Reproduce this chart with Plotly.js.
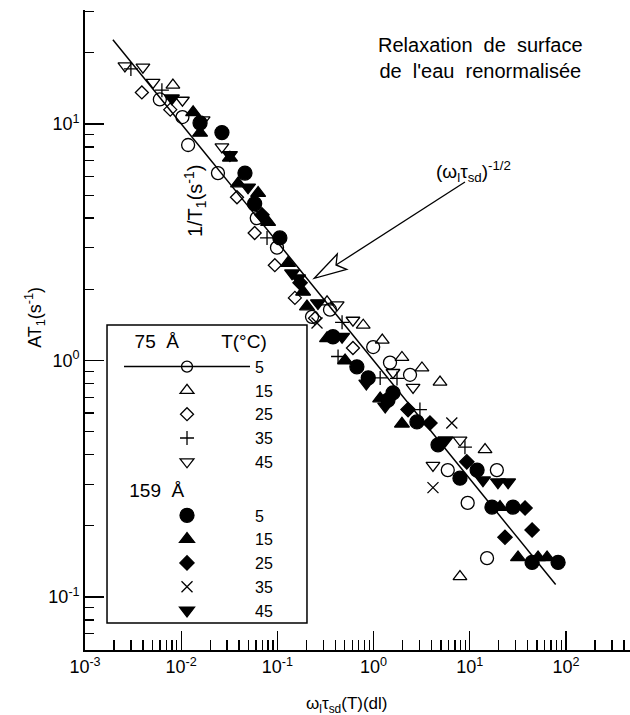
<!DOCTYPE html>
<html><head><meta charset="utf-8">
<script src="https://cdn.plot.ly/plotly-3.0.1.min.js"></script>
<style>html,body{margin:0;padding:0;background:#fff}</style>
</head><body><div id="chart" style="width:630px;height:715px"></div>
<script>
const FONT = 'Liberation Sans, Arial, Helvetica, sans-serif';

// ---- data: 75 Å pores ----
const x75_5  = [0.0060, 0.0103, 0.0118, 0.0241, 0.061, 0.099, 0.229, 0.352, 0.99, 1.48, 2.39, 5.9, 9.5, 15.1, 19.1];
const y75_5  = [12.7, 10.7, 8.15, 6.2, 4.0, 3.0, 1.53, 1.64, 1.14, 0.98, 0.87, 0.344, 0.25, 0.146, 0.344];
const x75_15 = [0.0082, 0.328, 0.78, 1.23, 1.97, 3.18, 4.9, 14.4, 7.9];
const y75_15 = [14.6, 1.77, 1.41, 1.22, 1.03, 0.93, 0.81, 0.42, 0.122];
const x75_25 = [0.0039, 0.0077, 0.038, 0.058, 0.094, 0.152, 0.246, 0.61];
const y75_25 = [13.6, 11.5, 4.9, 3.46, 2.53, 1.84, 1.51, 1.13];
const x75_35 = [0.0030, 0.0063, 0.078, 0.47, 0.427, 1.17, 1.75, 3.03, 8.9];
const y75_35 = [17.1, 13.9, 3.3, 1.45, 1.04, 0.844, 0.84, 0.62, 0.43];
const x75_45 = [0.0026, 0.0040, 0.0051, 0.0103, 0.0169, 0.0265, 0.418, 0.61, 1.59, 2.57, 7.91, 4.14];
const y75_45 = [17.6, 17.4, 15.0, 12.6, 10.4, 8.0, 1.72, 1.48, 0.89, 0.77, 0.461, 0.36];

// ---- data: 159 Å pores ----
const x159_5  = [0.0157, 0.0265, 0.046, 0.058, 0.106, 0.378, 0.67, 0.88, 1.41, 1.59, 2.82, 4.67, 7.9, 11.9, 17, 28.1, 44.4, 82.7];
const y159_5  = [10.1, 9.2, 6.2, 4.6, 3.3, 1.26, 0.94, 0.845, 0.68, 0.73, 0.55, 0.44, 0.318, 0.344, 0.24, 0.24, 0.14, 0.14];
const x159_15 = [0.0133, 0.0157, 0.0321, 0.039, 0.063, 0.080, 0.129, 0.185, 0.203, 0.328, 0.505, 1.17, 1.97, 20.6, 31.7, 51.2, 63.5];
const y159_15 = [11.2, 9.17, 7.2, 5.6, 5.1, 3.85, 2.58, 1.95, 1.69, 1.24, 1.0, 0.69, 0.54, 0.24, 0.147, 0.147, 0.147];
const x159_25 = [0.069, 0.172, 2.28, 3.85, 9.3, 37.5, 23.2, 44.4];
const y159_25 = [4.13, 2.13, 0.62, 0.544, 0.373, 0.238, 0.179, 0.192];
const x159_35 = [0.258, 6.5, 4.14];
const y159_35 = [1.44, 0.544, 0.29];
const x159_45 = [0.0080, 0.0321, 0.0495, 0.142, 0.164, 0.264, 0.47, 0.84, 1.32, 5.58, 13.7, 19.6, 25];
const y159_45 = [12.85, 7.4, 5.4, 2.34, 2.23, 1.75, 1.26, 0.80, 0.64, 0.46, 0.312, 0.306, 0.306];

// ---- power-law line (omega tau)^-1/2 ----
const fitX = [0.00195, 78];
const fitY = [22.7, 0.113];

// ---- tick labels ----
const xTickVals = [0.001, 0.01, 0.1, 1, 10, 100];
const xTickText = ['10<sup>-3</sup>', '10<sup>-2</sup>', '10<sup>-1</sup>', '10<sup>0</sup>', '10<sup>1</sup>', '10<sup>2</sup>'];
const yTickVals = [0.1, 1, 10];
const yTickText = ['10<sup>-1</sup>', '10<sup>0</sup>', '10<sup>1</sup>'];

function minorVals(lo, hi) {
  const v = [];
  for (let e = lo; e <= hi; e++) for (let m = 2; m <= 9; m++) v.push(m * Math.pow(10, e));
  return v;
}

const openLine = {color: '#000', width: 1.3};
function pts(x, y, symbol, size, name, group, extra) {
  return Object.assign({
    type: 'scatter', mode: 'markers', x: x, y: y, name: name,
    legendgroup: group, cliponaxis: false,
    marker: {symbol: symbol, size: size, color: '#000', line: openLine}
  }, extra || {});
}

const NB = '\u00a0';
const LFS = 16;
const TFS = 19;
const traces = [
  {type: 'scatter', mode: 'lines+markers', x: fitX, y: fitY, name: '5', legendgroup: 'g75',
   legendgrouptitle: {text: NB + NB + '75' + NB + NB + 'Å' + NB.repeat(8) + 'T(°C)', font: {family: FONT, size: TFS, color: '#000'}},
   line: {color: '#000', width: 1.5},
   selectedpoints: [], unselected: {marker: {opacity: 0}},
   marker: {symbol: 'circle-open', size: 11, color: '#000', line: openLine}},
  pts(x75_5, y75_5, 'circle-open', 13, '5', 'g75', {showlegend: false}),
  pts(x75_15, y75_15, 'triangle-up-open', 12, '15', 'g75'),
  pts(x75_25, y75_25, 'diamond-open', 10, '25', 'g75'),
  pts(x75_35, y75_35, 'cross-thin-open', 10, '35', 'g75'),
  pts(x75_45, y75_45, 'triangle-down-open', 12, '45', 'g75'),
  pts(x159_5, y159_5, 'circle', 14, '5', 'g159',
      {legendgrouptitle: {text: NB + '159' + NB + NB + 'Å', font: {family: FONT, size: TFS, color: '#000'}}}),
  pts(x159_15, y159_15, 'triangle-up', 13, '15', 'g159'),
  pts(x159_25, y159_25, 'diamond', 11, '25', 'g159'),
  pts(x159_35, y159_35, 'x-thin-open', 11, '35', 'g159'),
  pts(x159_45, y159_45, 'triangle-down', 13, '45', 'g159')
];

const axisCommon = {
  type: 'log', showline: true, linecolor: '#000', linewidth: 1.8, mirror: false,
  showgrid: false, zeroline: false, ticks: 'inside', ticklen: 19, tickwidth: 1.3, tickcolor: '#000',
  tickmode: 'array', tickfont: {family: FONT, size: 18, color: '#000'}
};

const layout = {
  width: 630, height: 715,
  margin: {l: 85, r: 0, t: 10, b: 65},
  paper_bgcolor: '#fff', plot_bgcolor: '#fff',
  font: {family: FONT, color: '#000'},
  xaxis: Object.assign({}, axisCommon, {
    range: [-3, 2.665], tickvals: xTickVals, ticktext: xTickText,
    minor: {tickmode: 'array', tickvals: minorVals(-3, 2), ticks: 'inside', ticklen: 10, tickwidth: 1.3, tickcolor: '#000', showgrid: false}
  }),
  yaxis: Object.assign({}, axisCommon, {
    range: [-1.224, 1.482], tickvals: yTickVals, ticktext: yTickText,
    minor: {tickmode: 'array', tickvals: minorVals(-2, 1), ticks: 'inside', ticklen: 9, tickwidth: 1.3, tickcolor: '#000', showgrid: false}
  }),
  showlegend: true,
  legend: {
    x: 0.0624, y: 0.5125, xanchor: 'left', yanchor: 'top',
    bgcolor: 'rgba(0,0,0,0)', borderwidth: 0,
    font: {family: FONT, size: LFS, color: '#000'},
    itemwidth: 126, tracegroupgap: 2, traceorder: 'grouped',
    itemclick: false, itemdoubleclick: false
  },
  annotations: [
    {xref: 'paper', yref: 'paper', x: 0.7248, y: 0.9256, xanchor: 'center', yanchor: 'middle', showarrow: false,
     text: 'Relaxation' + NB + ' de' + NB + ' surface<br>de' + NB + ' l\'eau' + NB + ' renormalisée', font: {family: FONT, size: 20, color: '#000'}},
    {xref: 'paper', yref: 'paper', x: 0.7125, y: 0.7473, xanchor: 'center', yanchor: 'middle', showarrow: false,
     text: '(ω<sub>l</sub>τ<sub>sd</sub>)<sup>-1/2</sup>', font: {family: FONT, size: 19, color: '#000'}},
    {xref: 'paper', yref: 'paper', x: 0.48, y: -0.086, xanchor: 'center', yanchor: 'middle', showarrow: false,
     text: 'ω<sub>l</sub>τ<sub>sd</sub>(T)(dl)', font: {family: FONT, size: 17, color: '#000'}},
    {xref: 'paper', yref: 'paper', x: -0.0917, y: 0.519, xanchor: 'center', yanchor: 'middle', showarrow: false, textangle: -90,
     text: 'AT<sub>1</sub>(s<sup>-1</sup>)', font: {family: FONT, size: 18, color: '#000'}},
    {xref: 'paper', yref: 'paper', x: 0.2018, y: 0.703, xanchor: 'center', yanchor: 'middle', showarrow: false, textangle: -90,
     text: '1/T<sub>1</sub>(s<sup>-1</sup>)', font: {family: FONT, size: 20, color: '#000'}}
  ],
  shapes: [
    {type: 'rect', xref: 'paper', yref: 'paper', x0: 0.0404, x1: 0.4073, y0: 0.0422, y1: 0.5078,
     fillcolor: '#fff', line: {color: '#000', width: 1.5}},
    {type: 'line', xref: 'paper', yref: 'paper', x0: 0.4606, y0: 0.6016, x1: 0.6972, y1: 0.7313, line: {color: '#000', width: 1.3}},
    {type: 'path', xref: 'paper', yref: 'paper', fillcolor: '#fff', line: {color: '#000', width: 1.3},
     path: 'M0.4207,0.5808 L0.4629,0.6188 L0.4606,0.6016 L0.4802,0.5948 Z'}
  ]
};

Plotly.newPlot('chart', traces, layout, {displayModeBar: false, staticPlot: true});
</script></body></html>
